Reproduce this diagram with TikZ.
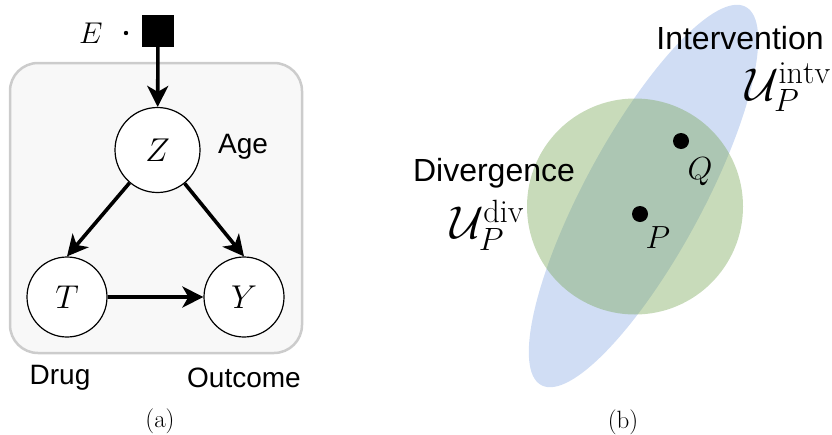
\RequirePackage{fix-cm}
\documentclass[tikz,border=0pt]{standalone}
\usepackage{fontspec}
\setsansfont{Liberation Sans}
\usetikzlibrary{arrows.meta}
\definecolor{boxgray}{RGB}{204,204,204}
\definecolor{boxfill}{RGB}{248,248,248}
\definecolor{intvblue}{RGB}{208,221,244}
\definecolor{divgreen}{RGB}{118,165,83}

\begin{document}
\begin{tikzpicture}[x=1pt,y=-1pt,every node/.style={inner sep=0pt},
   var/.style={draw,circle,fill=white,line width=1.2pt,minimum size=80pt,
     font=\fontsize{33}{36}\selectfont},
   lbl/.style={font=\sffamily\fontsize{28}{32}\selectfont},
   biglbl/.style={font=\sffamily\fontsize{32}{36}\selectfont},
   subcap/.style={font=\fontsize{25}{28}\selectfont},
   edge/.style={line width=3.6pt,-{Stealth[length=21pt,width=21pt,inset=6pt]}}]
   \useasboundingbox (0,0) rectangle (832,434);
   % (a) the causal graph
   \draw [boxgray,fill=boxfill,line width=2.5pt,rounded corners=28pt] (10,63) rectangle (302,353);
   \node [fill,minimum size=32pt] (do) at (158,31) {};
   \node [font=\fontsize{30}{32}\selectfont] (e) at (91,33) {$E$};
   \fill (126,33) circle (2.2);
   \node [var,minimum size=85pt] (z) at (157.5,150) {$Z$};
   \node [var] (t) at (67,297) {$T$};
   \node [var] (y) at (244,297) {$Y$};
   \draw [edge] (do) -- (z);
   \draw [edge] (z) -- (t.north);
   \draw [edge] (z) -- (y.north);
   \draw [edge] (t) -- (y);
   \node [lbl] (age) at (243,147) {Age};
   \node [lbl] (drug) at (60,378) {Drug};
   \node [lbl] (outcome) at (244,378) {Outcome};
   \node [subcap] (capa) at (160,421) {(a)};
   % (b) the two uncertainty sets
   \fill [intvblue,rotate around={61.6:(643.5,196)}] (643.5,196) ellipse [x radius=215,y radius=59];
   \fill [divgreen,opacity=0.4] (635,206.5) circle (108);
   \node [circle,fill,minimum size=16pt] (q) at (681,141) {};
   \node [circle,fill,minimum size=16pt] (p) at (640,214) {};
   \node [font=\fontsize{32}{36}\selectfont] (ql) at (700,172) {$Q$};
   \node [font=\fontsize{32}{36}\selectfont] (pl) at (658,238) {$P$};
   \node [biglbl] (divl) at (494,173) {Divergence};
   \node [font=\fontsize{46}{50}\selectfont] (udiv) at (487,225) {$\mathcal{U}_P^{\mathrm{div}}$};
   \node [biglbl] (intl) at (740,38) {Intervention};
   \node [font=\fontsize{46}{50}\selectfont] (uintv) at (788,87) {$\mathcal{U}_P^{\mathrm{intv}}$};
   \node [subcap] (capb) at (623,422) {(b)};
  \end{tikzpicture}
\end{document}
